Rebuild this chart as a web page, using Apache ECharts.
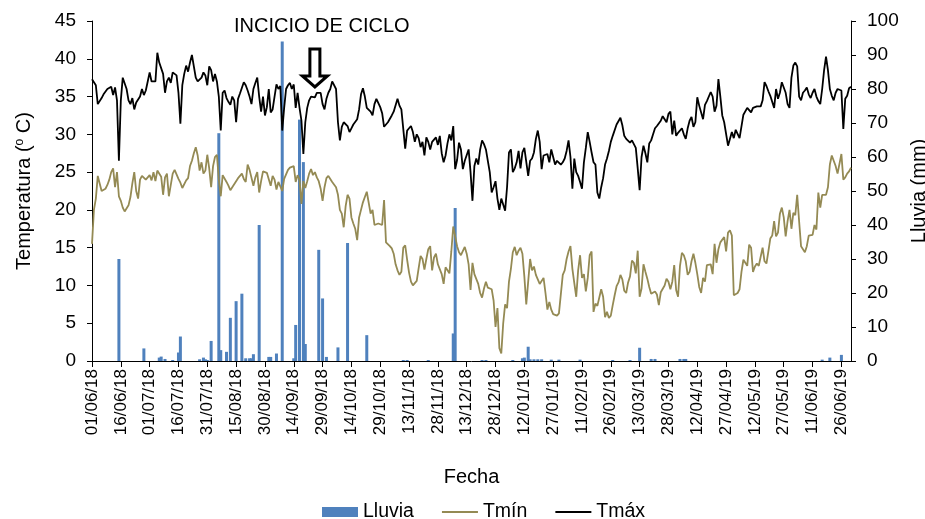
<!DOCTYPE html>
<html>
<head>
<meta charset="utf-8">
<script src="https://cdn.jsdelivr.net/npm/echarts@6/dist/echarts.min.js"></script>
<style>
  html, body { margin: 0; padding: 0; background: #fff; }
  #main { width: 925px; height: 519px; }
</style>
</head>
<body>
<div id="main"></div>
<script>
// datos diarios 01/06/18 - 01/07/19
var startDate = Date.UTC(2018, 5, 1);
var nDays = 396;

var tmax = [
  37.3, 37.3, 36.5, 34.0, 33.8, 34.8, 35.3, 35.5, 36.0, 36.2, 36.3, 35.2, 36.2, 34.5, 26.5, 34.5, 37.5, 37.5, 36.0, 34.5,
  34.0, 34.8, 33.3, 34.2, 34.2, 35.0, 36.0, 35.2, 35.8, 37.0, 38.2, 37.0, 36.8, 37.0, 40.8, 39.5, 39.7, 38.0, 35.5, 37.0,
  37.5, 36.8, 38.2, 38.2, 37.8, 35.5, 31.4, 36.5, 38.0, 39.1, 38.3, 39.5, 40.5, 39.0, 37.5, 37.0, 37.0, 37.5, 38.2, 37.8,
  36.5, 39.0, 38.5, 37.0, 38.0, 37.0, 35.0, 30.5, 35.5, 35.8, 34.8, 34.3, 33.9, 35.0, 34.5, 31.6, 34.7, 35.4, 35.2, 36.9,
  36.5, 35.8, 35.0, 34.0, 36.0, 36.8, 37.5, 35.0, 33.0, 35.0, 32.5, 33.6, 36.0, 32.9, 33.3, 35.0, 36.6, 36.0, 36.4, 30.5,
  33.5, 36.0, 36.5, 36.8, 36.0, 36.6, 33.5, 35.5, 33.5, 31.8, 27.4, 31.6, 33.5, 34.5, 35.0, 34.8, 34.9, 35.5, 35.3, 35.5,
  34.0, 33.3, 34.7, 35.5, 36.0, 37.0, 37.2, 36.0, 31.6, 29.2, 31.0, 31.6, 31.8, 31.1, 30.3, 30.8, 31.3, 31.5, 32.0, 33.3,
  35.3, 36.1, 35.0, 33.5, 33.7, 33.0, 32.5, 34.0, 34.7, 34.5, 33.6, 32.8, 31.0, 31.2, 31.6, 31.8, 32.5, 33.0, 33.2, 34.7,
  33.8, 33.3, 33.1, 28.1, 30.5, 30.8, 31.1, 30.3, 29.0, 30.0, 29.5, 28.3, 29.0, 27.2, 29.6, 29.0, 28.0, 29.0, 29.2, 29.6,
  28.6, 29.8, 27.5, 26.3, 27.2, 28.8, 30.0, 29.2, 31.1, 25.4, 26.6, 28.9, 28.0, 25.4, 26.5, 26.5, 28.0, 25.0, 21.2, 25.8,
  26.8, 26.0, 28.0, 29.2, 28.7, 28.0, 26.5, 25.0, 22.3, 23.0, 23.8, 21.5, 20.0, 21.5, 21.3, 19.9, 23.0, 27.6, 28.0, 25.0,
  25.5, 26.3, 27.8, 25.5, 27.6, 28.2, 28.0, 24.5, 26.5, 26.8, 27.6, 29.4, 30.5, 29.0, 25.4, 27.2, 27.4, 27.4, 26.3, 28.0,
  28.0, 26.0, 26.5, 26.6, 26.0, 26.3, 26.8, 27.8, 29.2, 27.0, 22.8, 26.8, 25.0, 24.5, 23.7, 22.8, 26.3, 28.2, 30.3, 29.0,
  27.6, 26.3, 26.0, 22.3, 21.5, 23.0, 24.2, 26.0, 26.8, 27.8, 29.0, 29.8, 30.0, 31.3, 31.5, 32.2, 31.2, 29.8, 29.4, 29.4,
  28.9, 29.2, 29.3, 28.2, 25.5, 22.6, 27.0, 28.5, 27.5, 26.3, 28.8, 29.2, 30.0, 30.8, 31.1, 31.1, 31.8, 32.4, 32.5, 31.6,
  32.7, 33.0, 30.0, 31.8, 29.8, 30.2, 30.0, 30.8, 30.0, 29.4, 30.8, 31.8, 32.3, 31.0, 31.6, 34.9, 33.8, 33.6, 32.0, 33.9,
  34.4, 34.6, 35.6, 35.0, 33.0, 33.8, 37.3, 35.0, 32.5, 31.6, 31.8, 28.5, 28.6, 30.3, 29.5, 30.6, 30.5, 29.5, 29.5, 32.6,
  32.7, 33.5, 33.5, 32.9, 33.5, 33.7, 33.7, 33.7, 33.7, 34.5, 36.9, 36.4, 35.7, 35.1, 34.9, 33.5, 36.0, 34.7, 35.5, 36.9,
  37.0, 35.5, 34.0, 33.5, 37.5, 39.1, 39.5, 39.0, 35.0, 34.5, 35.5, 35.8, 36.2, 35.3, 34.8, 35.5, 36.0, 35.0, 34.4, 34.0,
  36.0, 38.5, 40.3, 38.5, 36.0, 35.1, 34.5, 35.5, 36.0, 36.0, 35.8, 30.7, 34.7, 35.1, 36.1, 36.3
];

var tmin = [
  15.5, 20.0, 21.5, 24.5, 23.5, 22.5, 22.3, 22.8, 23.3, 24.0, 25.0, 25.5, 23.0, 25.0, 21.8, 21.2, 20.3, 19.8, 19.6, 20.6,
  21.7, 23.5, 25.0, 22.5, 21.5, 24.0, 24.5, 24.3, 24.0, 23.8, 24.6, 23.9, 25.0, 23.8, 25.2, 25.4, 24.4, 22.0, 24.3, 24.8,
  21.8, 23.3, 24.8, 25.3, 25.4, 24.1, 23.6, 22.9, 23.0, 23.9, 24.2, 25.8, 26.5, 27.5, 28.3, 27.2, 25.2, 26.3, 24.8, 25.2,
  27.3, 25.5, 23.0, 25.8, 27.0, 27.3, 24.0, 21.8, 24.6, 24.5, 23.7, 23.2, 22.6, 23.0, 23.2, 23.8, 24.2, 24.3, 24.8, 24.1,
  23.7, 26.0, 25.3, 25.1, 23.2, 24.3, 25.0, 22.3, 23.8, 25.1, 25.0, 24.9, 24.8, 23.2, 24.5, 24.0, 22.7, 23.7, 23.9, 22.5,
  24.1, 24.3, 25.3, 25.6, 25.6, 25.8, 23.7, 24.6, 24.0, 20.8, 23.8, 22.9, 23.8, 24.8, 25.4, 24.6, 25.0, 24.3, 23.8, 22.8,
  21.2, 23.0, 24.2, 24.5, 24.1, 23.7, 23.5, 23.0, 22.0, 20.0, 19.5, 17.7, 20.5, 22.0, 21.5, 19.0, 18.2, 17.5, 16.0, 19.0,
  20.0, 21.0, 21.7, 22.4, 22.2, 19.5, 20.0, 18.0, 17.8, 18.2, 18.0, 18.0, 21.3, 15.7, 15.5, 15.2, 14.9, 14.2, 12.8, 12.0,
  11.4, 11.8, 15.0, 15.3, 13.4, 11.7, 10.5, 10.0, 10.2, 10.6, 12.3, 13.9, 13.5, 12.1, 13.5, 14.8, 15.2, 12.0, 13.7, 14.2,
  12.8, 12.8, 11.5, 10.2, 12.4, 12.4, 11.6, 14.5, 17.8, 17.8, 15.2, 14.4, 14.0, 14.0, 15.1, 14.2, 12.8, 9.4, 13.0, 11.5,
  11.4, 10.2, 9.0, 8.4, 9.6, 10.5, 9.7, 9.5, 9.5, 8.0, 4.5, 7.0, 1.7, 1.0, 5.0, 7.5, 7.0, 10.5, 12.2, 14.4,
  15.1, 14.0, 14.6, 15.0, 14.2, 11.2, 7.5, 10.5, 13.5, 12.0, 12.5, 11.4, 10.8, 10.2, 10.0, 11.0, 9.0, 6.8, 7.8, 6.8,
  6.2, 6.0, 6.0, 6.3, 6.4, 11.4, 12.0, 13.5, 14.5, 15.2, 12.2, 10.3, 8.5, 12.0, 14.0, 11.0, 11.5, 9.2, 11.0, 14.0,
  14.5, 6.5, 7.6, 7.3, 7.3, 9.5, 8.5, 5.8, 6.5, 5.7, 6.0, 7.4, 8.7, 9.9, 10.4, 11.4, 10.8, 9.3, 9.0, 10.4,
  11.2, 13.3, 13.0, 11.6, 14.6, 8.5, 9.6, 12.8, 11.8, 10.9, 9.8, 8.9, 9.1, 9.2, 8.8, 7.4, 9.1, 8.9, 10.0, 10.9,
  10.5, 9.5, 10.5, 12.7, 9.4, 8.5, 12.6, 14.3, 14.0, 13.2, 11.4, 11.8, 13.2, 14.2, 13.0, 11.5, 9.8, 9.0, 11.0, 10.5,
  12.7, 12.5, 12.8, 11.5, 15.5, 13.0, 14.8, 15.7, 15.9, 16.4, 14.5, 17.0, 17.3, 16.6, 8.7, 8.8, 9.0, 9.5, 11.8, 13.4,
  13.3, 12.6, 15.4, 15.0, 11.8, 12.5, 12.9, 12.6, 12.4, 15.0, 13.2, 12.9, 14.5, 16.2, 16.6, 18.5, 16.5, 17.0, 19.5, 20.3,
  19.0, 16.5, 18.5, 20.0, 17.5, 19.6, 19.3, 22.0, 18.5, 15.2, 15.0, 14.4, 15.2, 16.6, 16.6, 16.7, 18.0, 17.4, 22.3, 20.3,
  22.0, 22.0, 22.0, 23.0, 26.0, 27.2, 27.2, 25.8, 24.8, 24.9, 27.4, 24.0, 24.3, 24.8, 25.1, 25.6
];

// lluvia: [dia, mm], el resto de dias 0
var rainDays = [14, 27, 35, 36, 38, 42, 45, 46, 56, 58, 59, 60, 62, 66, 67, 70, 72, 75, 78, 80,
  82, 83, 84, 87, 92, 93, 96, 99, 105, 106, 108, 110, 111, 118, 120, 122, 128, 133, 143, 162,
  164, 175, 188, 189, 203, 205, 219, 224, 225, 227, 228, 230, 232, 234, 239, 243, 254, 271, 280, 285,
  291, 293, 306, 308, 309, 380, 384, 390];
var rainMm = [30, 3.7, 1.0, 1.3, 0.6, 0.3, 2.5, 7.2, 0.5, 1.0, 0.5, 0.3, 5.9, 67, 3.2, 2.7, 12.7, 17.6, 19.8, 0.8,
  0.8, 0.8, 2.0, 40, 1.2, 1.2, 2.2, 94, 0.8, 10.6, 71, 58.5, 5.0, 32.7, 18.4, 1.2, 4.0, 34.7, 7.6, 0.3,
  0.3, 0.3, 8.1, 45, 0.3, 0.3, 0.3, 0.8, 1.0, 4.2, 0.5, 0.5, 0.5, 0.5, 0.4, 0.4, 0.4, 0.3, 0.3, 3.9,
  0.6, 0.6, 0.6, 0.6, 0.6, 0.4, 1.0, 1.8];

var cycleStart = 116; // flecha "INCICIO DE CICLO"

function pad(n) { return (n < 10 ? '0' : '') + n; }
var fechas = [];
for (var i = 0; i < nDays; i++) {
  var d = new Date(startDate + i * 86400000);
  fechas.push(pad(d.getUTCDate()) + '/' + pad(d.getUTCMonth() + 1) + '/' + String(d.getUTCFullYear()).slice(2));
}
var lluvia = [];
for (var i = 0; i < nDays; i++) lluvia.push(0);
rainDays.forEach(function (day, k) { lluvia[day] = rainMm[k]; });

var FONT = '"Liberation Sans", Arial, sans-serif';
var chart = echarts.init(document.getElementById('main'));

chart.setOption({
  animation: false,
  textStyle: { fontFamily: FONT, color: '#000' },
  grid: { left: 92, right: 74, top: 21, bottom: 158, containLabel: false, outerBoundsMode: 'none' },
  legend: {
    top: 497, left: 317,
    itemWidth: 36, itemHeight: 10, itemGap: 27,
    textStyle: { fontSize: 19.5, color: '#000', fontFamily: FONT },
    data: [
      { name: 'Lluvia', icon: 'rect' },
      { name: 'Tmín', itemStyle: { opacity: 0 } },
      { name: 'Tmáx', itemStyle: { opacity: 0 } }
    ]
  },
  xAxis: {
    type: 'category',
    data: fechas,
    boundaryGap: false,
    name: 'Fecha',
    nameLocation: 'middle',
    nameGap: 106,
    nameTextStyle: { fontSize: 20, color: '#000' },
    axisLine: { lineStyle: { color: '#000', width: 1 } },
    axisTick: { interval: 14, length: 6, lineStyle: { color: '#000' } },
    axisLabel: { interval: 14, rotate: 90, fontSize: 17, color: '#000', margin: 8 },
    splitLine: { show: false }
  },
  yAxis: [
    {
      type: 'value', min: 0, max: 45, interval: 5,
      name: '{n|Temperatura (}{s|o}{n| C)}',
      nameLocation: 'middle', nameGap: 58,
      nameTextStyle: {
        rich: {
          n: { fontSize: 20, color: '#000', fontFamily: FONT },
          s: { fontSize: 12, color: '#000', fontFamily: FONT, verticalAlign: 'top' }
        }
      },
      axisLine: { show: true, lineStyle: { color: '#000' } },
      axisTick: { show: true, length: 5, lineStyle: { color: '#000' } },
      axisLabel: { fontSize: 19, color: '#000', margin: 16 },
      splitLine: { show: false }
    },
    {
      type: 'value', min: 0, max: 100, interval: 10, position: 'right',
      name: 'Lluvia (mm)',
      nameLocation: 'middle', nameGap: 45,
      nameTextStyle: { fontSize: 20, color: '#000' },
      axisLine: { show: true, lineStyle: { color: '#000' } },
      axisTick: { show: true, length: 5, lineStyle: { color: '#000' } },
      axisLabel: { fontSize: 19, color: '#000', margin: 16 },
      splitLine: { show: false }
    }
  ],
  series: [
    {
      name: 'Lluvia', type: 'bar', yAxisIndex: 1,
      data: lluvia, barWidth: 3,
      itemStyle: { color: '#4F81BD' }
    },
    {
      name: 'Tmín', type: 'line', yAxisIndex: 0,
      data: tmin, symbol: 'none',
      lineStyle: { color: '#948A54', width: 1.8 },
      itemStyle: { color: '#948A54' }
    },
    {
      name: 'Tmáx', type: 'line', yAxisIndex: 0,
      data: tmax, symbol: 'none',
      lineStyle: { color: '#000', width: 1.8 },
      itemStyle: { color: '#000' }
    }
  ]
});

// rotulo y flecha de inicio de ciclo
var arrowPos = chart.convertToPixel({ gridIndex: 0 }, [cycleStart, 41.3]);
chart.setOption({
  graphic: [
    {
      type: 'text', left: 234, top: 16,
      style: { text: 'INCICIO DE CICLO', font: '20px ' + FONT, fill: '#000' }
    },
    {
      type: 'polygon', x: arrowPos[0], y: arrowPos[1],
      shape: { points: [[-5, 0], [5, 0], [5, 27], [12.5, 27], [0, 38], [-12.5, 27], [-5, 27]] },
      style: { fill: '#fff', stroke: '#000', lineWidth: 3 }
    }
  ]
});
</script>
</body>
</html>
